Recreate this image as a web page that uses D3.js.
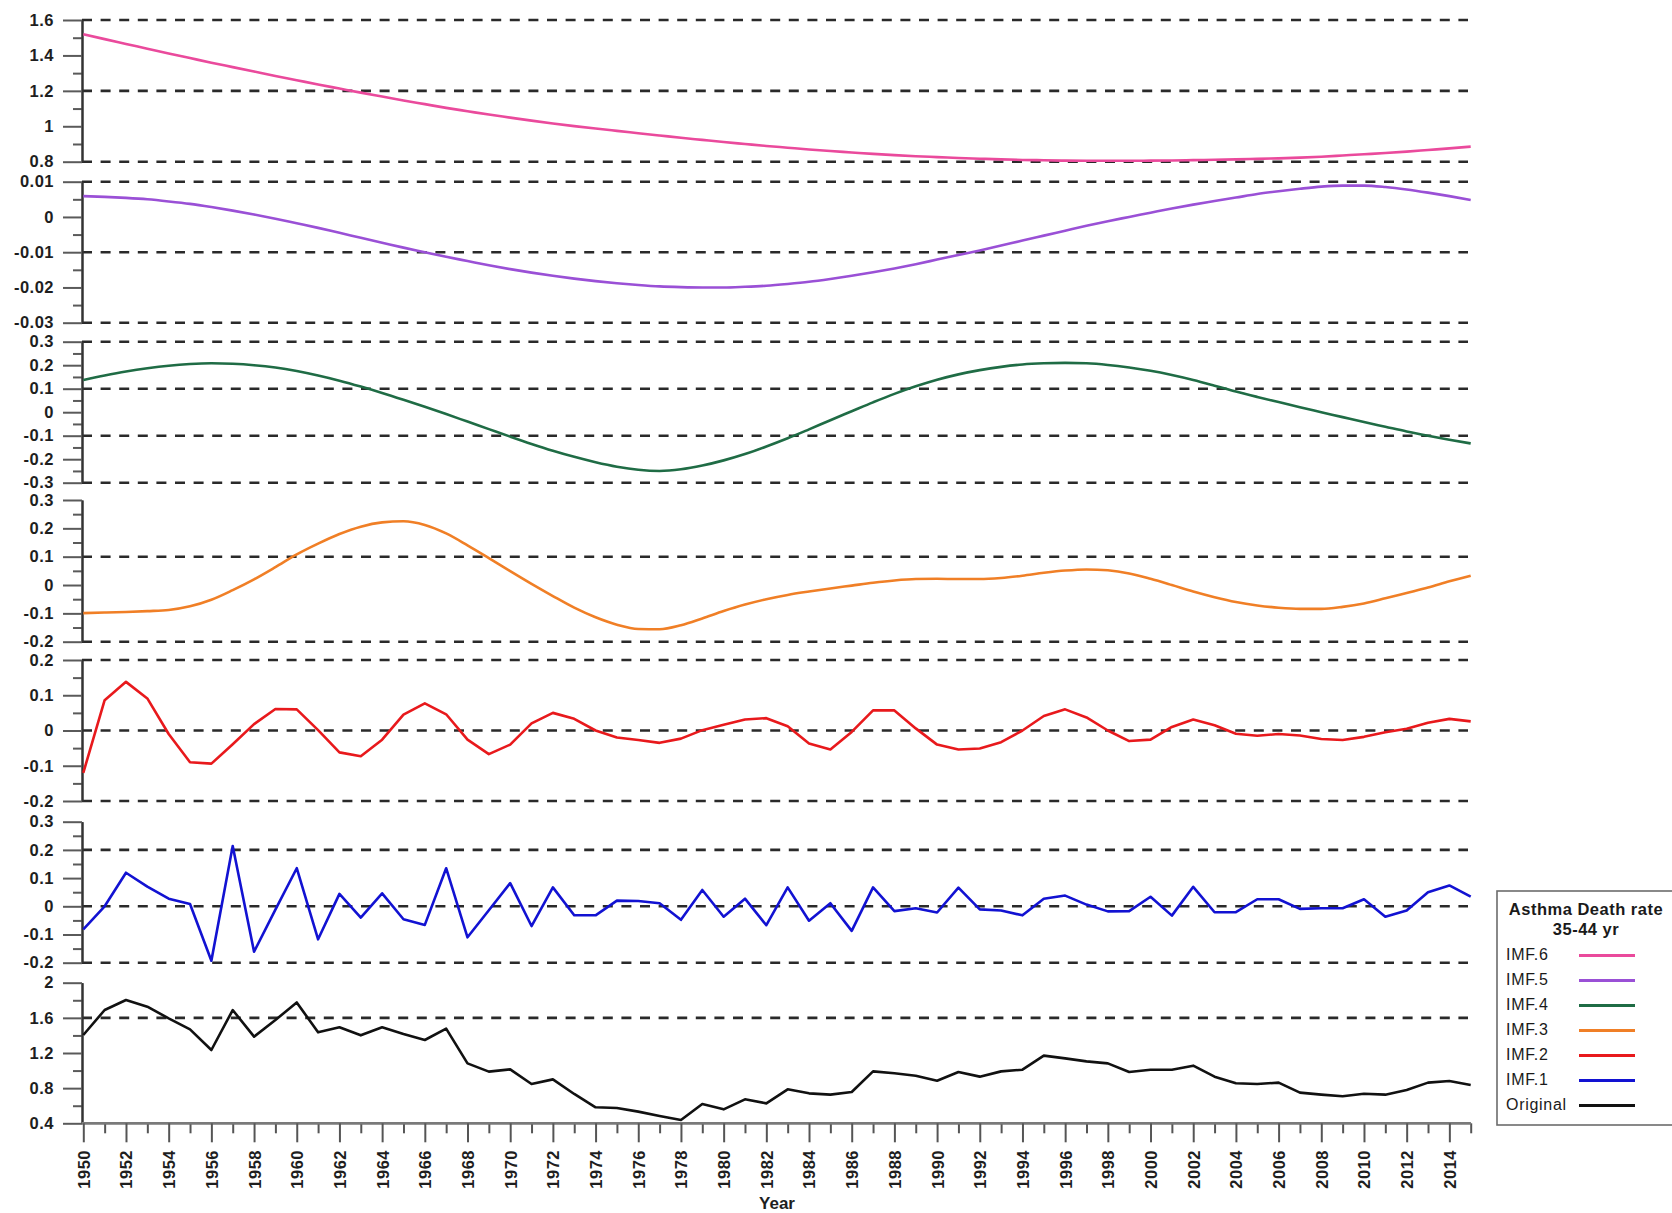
<!DOCTYPE html>
<html>
<head>
<meta charset="utf-8">
<script src="https://cdn.jsdelivr.net/npm/d3@7"></script>
<style>
  html, body { margin: 0; padding: 0; background: #fff; }
  svg { display: block; font-family: "Liberation Sans", Arial, sans-serif; }
</style>
</head>
<body>
<svg id="chart" width="1672" height="1213"></svg>
<script>
// ---- data: asthma death rate, ages 35-44, and its EMD components ----
const years = d3.range(1950, 2016);

const imf6 = [
  1.520, 1.492, 1.465, 1.438, 1.411, 1.385, 1.359, 1.334, 1.309, 1.284,
  1.260, 1.236, 1.213, 1.190, 1.168, 1.146, 1.125, 1.104, 1.085, 1.066,
  1.049, 1.032, 1.016, 1.001, 0.987, 0.974, 0.961, 0.948, 0.935, 0.923,
  0.911, 0.900, 0.889, 0.879, 0.869, 0.860, 0.852, 0.844, 0.837, 0.831,
  0.826, 0.821, 0.817, 0.813, 0.810, 0.808, 0.806, 0.805, 0.805, 0.805,
  0.806, 0.807, 0.809, 0.811, 0.813, 0.816, 0.819, 0.823, 0.828, 0.835,
  0.842, 0.849, 0.857, 0.866, 0.875, 0.885
];

const imf5 = [
  0.0059, 0.0057, 0.0054, 0.0050, 0.0044, 0.0037, 0.0028, 0.0018, 0.0007, -0.0005,
  -0.0018, -0.0031, -0.0045, -0.0059, -0.0073, -0.0087, -0.0100, -0.0113, -0.0125, -0.0137,
  -0.0148, -0.0158, -0.0167, -0.0175, -0.0182, -0.0188, -0.0193, -0.0197, -0.0199, -0.0200,
  -0.0200, -0.0198, -0.0195, -0.0190, -0.0184, -0.0176, -0.0167, -0.0157, -0.0146, -0.0134,
  -0.0121, -0.0108, -0.0095, -0.0081, -0.0067, -0.0053, -0.0039, -0.0025, -0.0012, 0.0000,
  0.0012, 0.0024, 0.0035, 0.0045, 0.0055, 0.0065, 0.0073, 0.0080, 0.0086, 0.0089,
  0.0089, 0.0085, 0.0078, 0.0069, 0.0059, 0.0048
];

const imf4 = [
  0.137, 0.156, 0.173, 0.187, 0.198, 0.205, 0.208, 0.206, 0.200, 0.190,
  0.175, 0.156, 0.134, 0.109, 0.082, 0.053, 0.023, -0.008, -0.040, -0.072,
  -0.104, -0.135, -0.164, -0.190, -0.213, -0.232, -0.245, -0.250, -0.243, -0.227,
  -0.205, -0.178, -0.146, -0.111, -0.073, -0.034, 0.004, 0.042, 0.078, 0.110,
  0.138, 0.161, 0.179, 0.193, 0.203, 0.208, 0.210, 0.208, 0.201, 0.190,
  0.176, 0.158, 0.137, 0.113, 0.088, 0.065, 0.043, 0.021, 0.000, -0.021,
  -0.042, -0.062, -0.082, -0.100, -0.117, -0.133
];

const imf3 = [
  -0.099, -0.097, -0.095, -0.092, -0.088, -0.075, -0.052, -0.018, 0.020, 0.063,
  0.108, 0.146, 0.180, 0.206, 0.221, 0.225, 0.212, 0.182, 0.140, 0.095,
  0.049, 0.004, -0.039, -0.080, -0.114, -0.140, -0.155, -0.156, -0.142, -0.118,
  -0.092, -0.069, -0.050, -0.035, -0.023, -0.012, -0.002, 0.008, 0.016, 0.021,
  0.022, 0.021, 0.021, 0.025, 0.033, 0.043, 0.051, 0.055, 0.052, 0.041,
  0.022, 0.000, -0.023, -0.043, -0.060, -0.072, -0.080, -0.084, -0.084, -0.077,
  -0.065, -0.047, -0.028, -0.009, 0.013, 0.033
];

const imf2 = [
  -0.120, 0.086, 0.138, 0.091, -0.010, -0.090, -0.094, -0.039, 0.018, 0.061,
  0.060, 0.001, -0.062, -0.073, -0.026, 0.045, 0.077, 0.046, -0.026, -0.067,
  -0.040, 0.020, 0.050, 0.033, 0.000, -0.020, -0.027, -0.035, -0.023, 0.001,
  0.016, 0.031, 0.035, 0.012, -0.037, -0.054, -0.004, 0.057, 0.057, 0.006,
  -0.040, -0.054, -0.051, -0.033, 0.000, 0.041, 0.060, 0.037, 0.000, -0.030,
  -0.026, 0.010, 0.031, 0.015, -0.009, -0.015, -0.010, -0.014, -0.024, -0.027,
  -0.018, -0.005, 0.005, 0.022, 0.033, 0.026
];

const imf1 = [
  -0.082, 0.000, 0.119, 0.070, 0.027, 0.008, -0.193, 0.214, -0.161, -0.012,
  0.135, -0.117, 0.044, -0.040, 0.046, -0.046, -0.066, 0.135, -0.110, -0.014,
  0.082, -0.070, 0.067, -0.032, -0.032, 0.020, 0.019, 0.011, -0.048, 0.058,
  -0.037, 0.027, -0.067, 0.067, -0.051, 0.011, -0.087, 0.067, -0.017, -0.007,
  -0.022, 0.066, -0.011, -0.015, -0.032, 0.027, 0.038, 0.006, -0.018, -0.017,
  0.034, -0.033, 0.069, -0.021, -0.021, 0.025, 0.025, -0.009, -0.007, -0.007,
  0.025, -0.037, -0.015, 0.050, 0.074, 0.034
];

const original = [
  1.405, 1.689, 1.803, 1.727, 1.594, 1.469, 1.234, 1.689, 1.386, 1.575,
  1.776, 1.435, 1.492, 1.401, 1.492, 1.416, 1.348, 1.477, 1.082, 0.988,
  1.014, 0.847, 0.900, 0.734, 0.582, 0.574, 0.533, 0.483, 0.438, 0.620,
  0.559, 0.673, 0.627, 0.787, 0.741, 0.726, 0.756, 0.991, 0.969, 0.942,
  0.885, 0.984, 0.931, 0.991, 1.010, 1.170, 1.139, 1.105, 1.082, 0.984,
  1.010, 1.010, 1.056, 0.931, 0.855, 0.847, 0.863, 0.749, 0.726, 0.707,
  0.737, 0.726, 0.779, 0.863, 0.882, 0.836
];

// labelled y ticks and dashed reference levels for each panel
const ticks6 = [0.8, 1, 1.2, 1.4, 1.6];
const grid6 = [0.8, 1.2, 1.6];
const ticks5 = [-0.03, -0.02, -0.01, 0, 0.01];
const grid5 = [-0.03, -0.01, 0.01];
const ticks4 = [-0.3, -0.2, -0.1, 0, 0.1, 0.2, 0.3];
const grid4 = [-0.3, -0.1, 0.1, 0.3];
const ticks3 = [-0.2, -0.1, 0, 0.1, 0.2, 0.3];
const grid3 = [-0.2, 0.1];
const ticks2 = [-0.2, -0.1, 0, 0.1, 0.2];
const grid2 = [-0.2, 0, 0.2];
const ticks1 = [-0.2, -0.1, 0, 0.1, 0.2, 0.3];
const grid1 = [-0.2, 0, 0.2];
const ticksOrig = [0.4, 0.8, 1.2, 1.6, 2];
const gridOrig = [1.6];

const seriesNames = ["IMF.6", "IMF.5", "IMF.4", "IMF.3", "IMF.2", "IMF.1", "Original"];
const legendTitle = ["Asthma Death rate", "35-44 yr"];
const xTitle = "Year";

// ---- layout & style ----
const svg = d3.select("#chart");
const axisX = 82;
const plotRight = 1470.7;
const gridRight = 1468;

const panels = [
  { values: imf6, ticks: ticks6, grid: grid6, color: "#ea4a9c", smooth: true, top: 20, bottom: 161.7 },
  { values: imf5, ticks: ticks5, grid: grid5, color: "#9a50d6", smooth: true, top: 181.7, bottom: 322.7 },
  { values: imf4, ticks: ticks4, grid: grid4, color: "#1f6c45", smooth: true, top: 341.7, bottom: 482.7 },
  { values: imf3, ticks: ticks3, grid: grid3, color: "#f07f26", smooth: true, top: 500, bottom: 641.7 },
  { values: imf2, ticks: ticks2, grid: grid2, color: "#e8191c", smooth: false, top: 660, bottom: 801 },
  { values: imf1, ticks: ticks1, grid: grid1, color: "#1212d2", smooth: false, top: 821.7, bottom: 962.7 },
  { values: original, ticks: ticksOrig, grid: gridOrig, color: "#111111", smooth: false, top: 982.7, bottom: 1123.3 }
];

const x = d3.scaleLinear().domain([1950, 2015]).range([83.3, plotRight]);

panels.forEach((p, i) => {
  const ext = d3.extent(p.ticks);
  const y = d3.scaleLinear().domain(ext).range([p.bottom, p.top]);
  const g = svg.append("g").attr("class", "panel");

  // dashed reference levels
  g.selectAll("line.grid").data(p.grid).join("line")
    .attr("class", "grid")
    .attr("x1", axisX).attr("x2", gridRight)
    .attr("y1", d => y(d)).attr("y2", d => y(d))
    .attr("stroke", "#2a2a2a").attr("stroke-width", 2.6)
    .attr("stroke-dasharray", "10,8.6");

  // minor ticks halfway between labelled ticks
  const minor = d3.pairs(p.ticks).map(([a, b]) => (a + b) / 2);
  const gMinor = g.append("g").attr("transform", `translate(${axisX},0)`)
    .call(d3.axisLeft(y).tickValues(minor).tickSize(9).tickSizeOuter(0).tickFormat(""));
  const gMajor = g.append("g").attr("transform", `translate(${axisX},0)`)
    .call(d3.axisLeft(y).tickValues(p.ticks).tickSize(19).tickSizeOuter(0).tickPadding(9)
      .tickFormat(d => String(d)));

  [gMinor, gMajor].forEach(ax => {
    ax.select(".domain").attr("stroke", "#333").attr("stroke-width", 2);
    ax.selectAll(".tick line").attr("stroke", "#5a5a5a").attr("stroke-width", 2);
  });
  gMajor.selectAll(".tick text")
    .attr("fill", "#1e1e1e")
    .style("font-size", "16.5px").style("font-weight", "bold")
    .style("letter-spacing", "0.5px");

  // series line
  const line = d3.line()
    .x((d, k) => x(years[k]))
    .y(d => y(d))
    .curve(p.smooth ? d3.curveMonotoneX : d3.curveLinear);
  g.append("path")
    .datum(p.values)
    .attr("d", line)
    .attr("fill", "none")
    .attr("stroke", p.color)
    .attr("stroke-width", 2.6)
    .attr("stroke-linejoin", "round");

  // year axis under the last panel
  if (i === panels.length - 1) {
    const axisY = p.bottom;
    const gx1 = svg.append("g").attr("transform", `translate(0,${axisY})`)
      .call(d3.axisBottom(x).tickValues(years.filter(v => v % 2 !== 0)).tickSize(10)
        .tickSizeOuter(0).tickFormat(""));
    const gx2 = svg.append("g").attr("transform", `translate(0,${axisY})`)
      .call(d3.axisBottom(x).tickValues(years.filter(v => v % 2 === 0)).tickSize(19)
        .tickSizeOuter(0).tickFormat(d => String(d)));
    [gx1, gx2].forEach(ax => {
      ax.select(".domain").attr("stroke", "#7a7a7a").attr("stroke-width", 2.4)
        .attr("d", `M${axisX},0H${plotRight}`);
      ax.selectAll(".tick line").attr("stroke", "#555").attr("stroke-width", 2);
    });
    gx2.selectAll(".tick text")
      .attr("transform", "rotate(-90)")
      .attr("x", -(1150 - axisY))
      .attr("y", 0)
      .attr("dy", "0.36em")
      .attr("text-anchor", "end")
      .attr("fill", "#1e1e1e")
      .style("font-size", "16.5px").style("font-weight", "bold")
      .style("letter-spacing", "0.5px");

    svg.append("text")
      .attr("x", 777).attr("y", 1209)
      .attr("text-anchor", "middle")
      .attr("fill", "#1e1e1e")
      .style("font-size", "17px").style("font-weight", "bold")
      .text(xTitle);
  }
});

// ---- legend ----
const lg = svg.append("g").attr("class", "legend");
lg.append("rect")
  .attr("x", 1497).attr("y", 891).attr("width", 200).attr("height", 234)
  .attr("fill", "#fff").attr("stroke", "#6c6c6c").attr("stroke-width", 1.6);
lg.selectAll("text.title").data(legendTitle).join("text")
  .attr("class", "title")
  .attr("x", 1586).attr("y", (d, k) => 915 + k * 20)
  .attr("text-anchor", "middle")
  .attr("fill", "#1a1a1a")
  .style("font-size", "16.5px").style("font-weight", "bold")
  .style("letter-spacing", "0.5px")
  .text(d => d);
const items = lg.selectAll("g.item").data(seriesNames).join("g")
  .attr("class", "item")
  .attr("transform", (d, k) => `translate(0,${960 + k * 25})`);
items.append("text")
  .attr("x", 1506).attr("y", 0)
  .attr("fill", "#1a1a1a")
  .style("font-size", "16px")
  .style("letter-spacing", "0.7px")
  .text(d => d);
items.append("line")
  .attr("x1", 1579).attr("x2", 1635)
  .attr("y1", -4.5).attr("y2", -4.5)
  .attr("stroke", (d, k) => panels[k].color)
  .attr("stroke-width", 2.8);
</script>
</body>
</html>
